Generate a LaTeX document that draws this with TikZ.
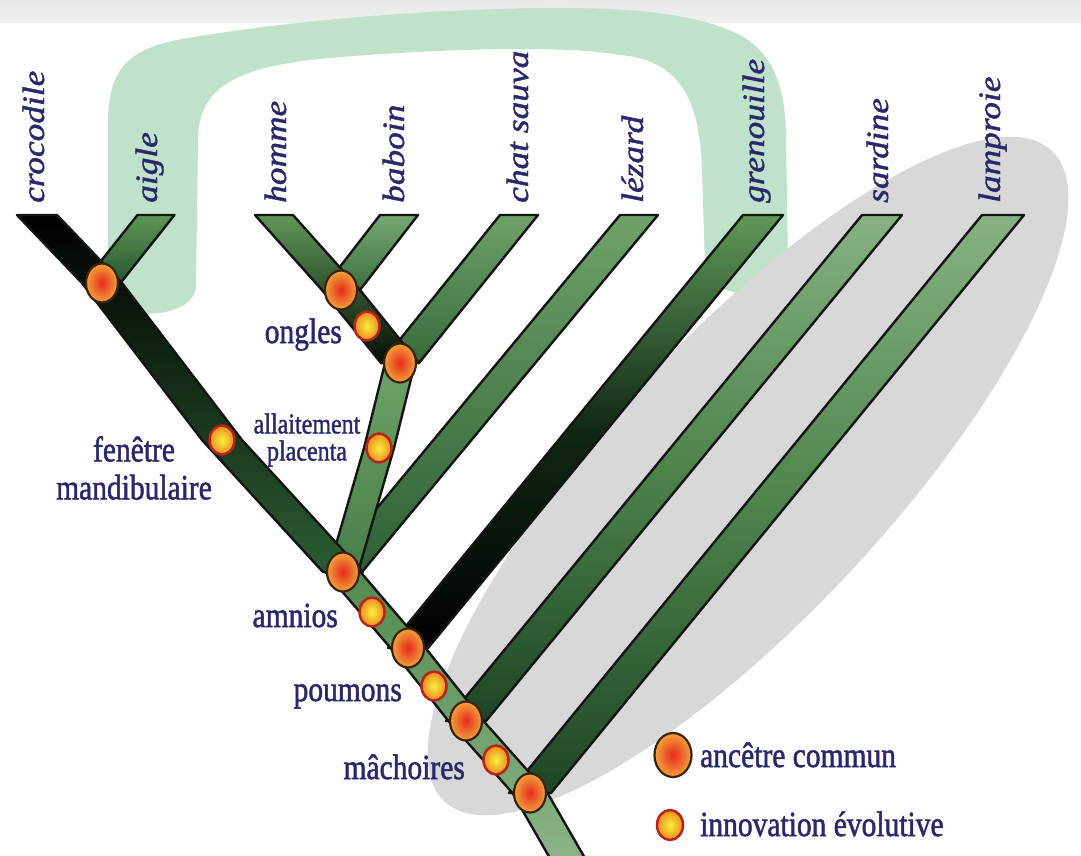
\documentclass[tikz,border=0pt]{standalone}
\usepackage{fontspec}
\setmainfont{Liberation Serif}
\newfontfamily\labfont{Liberation Serif}[FakeBold=1.6]
\newfontfamily\spfont{Liberation Serif}[FakeBold=1.3]
\usepackage{graphicx}
\usetikzlibrary{calc,shapes.geometric}
\pgfdeclarelayer{bg}
\pgfdeclarelayer{bars}
\pgfsetlayers{bg,bars,main}

\definecolor{navy}{HTML}{28286A}
\definecolor{mint}{HTML}{C0E1CA}
\definecolor{ellgray}{HTML}{D8D8D8}
\definecolor{ancin}{HTML}{E62A1C}
\definecolor{ancout}{HTML}{F3A23A}
\definecolor{ancring}{HTML}{3A230C}
\definecolor{innin}{HTML}{F7F23C}
\definecolor{innout}{HTML}{F08A22}
\definecolor{innring}{HTML}{B5231A}
\definecolor{HTMLa}{HTML}{5E9858}
\definecolor{HTMLb}{HTML}{25562E}

\newcommand\tallt[1]{\scalebox{1}[1.2]{#1}}
\newcommand\longt[1]{\scalebox{1.14}[1]{#1}}
% bar from tip #1 down to base node #2, horizontal half-width #3, style #4
\newcommand\branchbar[4]{%
  \draw[barline,#4] ($(#1)+(-#3,0)$) -- ($(#1)+(#3,0)$) -- ($(#2.center)+(#3,0)$) -- ($(#2.center)+(-#3,0)$) -- cycle;}

\begin{document}
\begin{tikzpicture}[x=1pt,y=-1pt,
  barline/.style={draw=black!92, line width=2.4pt, line join=round},
  upright/.style={shading angle=-39},
  upleft/.style={shading angle=40},
  anc/.style={ellipse, minimum width=32pt, minimum height=39pt, inner sep=0pt,
    draw=ancring, line width=2.2pt, inner color=ancin, outer color=ancout},
  innov/.style={ellipse, minimum width=25pt, minimum height=29pt, inner sep=0pt,
    draw=innring, line width=2.5pt, inner color=innin, outer color=innout},
  lab/.style={text=navy, font=\labfont\fontsize{29.5}{38}\selectfont, inner sep=0pt},
  smalllab/.style={text=navy, font=\labfont\fontsize{24}{27}\selectfont, inner sep=0pt, align=center},
  species/.style={text=navy, font=\spfont\itshape\fontsize{31}{31}\selectfont, rotate=90, inner sep=0pt, anchor=base west}
]
\useasboundingbox (0,0) rectangle (1081,855);

% ---- branch tips
\coordinate (tcroc) at (37,215);
\coordinate (taigle) at (156,215);
\coordinate (thomme) at (274,215);
\coordinate (tbab) at (399,215);
\coordinate (tchat) at (519,215);
\coordinate (tlez) at (639,215);
\coordinate (tgren) at (763,215);
\coordinate (tsard) at (882,215);
\coordinate (tlamp) at (1003,215);
\coordinate (tbot) at (580,880);

% ---- ancestors and innovations
\node[anc] (A1) at (102,283) {};
\node[anc] (A2) at (341,290) {};
\node[anc] (A3) at (400,363) {};
\node[anc] (A4) at (343,572) {};
\node[anc] (A5) at (408,648) {};
\node[anc] (A6) at (466,721) {};
\node[anc] (A7) at (530,793) {};
\node[innov] (I1) at (222,440) {};
\node[innov] (I5) at (367,326) {};
\node[innov] (I6) at (379,448) {};
\node[innov] (I2) at (372,612) {};
\node[innov] (I3) at (434,686) {};
\node[innov] (I4) at (496,760) {};

% ---- species labels
\node[species] (lcroc) at (44,203) {\longt{crocodile}};
\node[species] (laigle) at (157,203) {\longt{aigle}};
\node[species] (lhomme) at (286,203) {\longt{homme}};
\node[species] (lbab) at (404,203) {\longt{baboin}};
\node[species] (lchat) at (528,203) {\longt{chat sauva}};
\node[species] (llez) at (643,203) {\longt{lézard}};
\node[species] (lgren) at (764,203) {\longt{grenouille}};
\node[species] (lsard) at (888,203) {\longt{sardine}};
\node[species] (llamp) at (1000,203) {\longt{lamproie}};

% ---- trait labels
\node[lab, anchor=base east] (longles) at (342,343) {\tallt{ongles}};
\node[lab, align=center] (lfen) at (134,468) {\tallt{fenêtre}\\\tallt{mandibulaire}};
\node[smalllab] (lall) at (307,440) {\tallt{allaitement}\\\tallt{placenta}};
\node[lab, anchor=base east] (lamn) at (338,627) {\tallt{amnios}};
\node[lab, anchor=base east] (lpou) at (402,701) {\tallt{poumons}};
\node[lab, anchor=base east] (lmac) at (465,779) {\tallt{mâchoires}};

% ---- legend
\node[anc, minimum width=37pt, minimum height=44pt] (leganc) at (673,755) {};
\node[innov, minimum width=26pt, minimum height=30pt] (leginn) at (670,825) {};
\node[lab, anchor=base west] (lleganc) at (700,767) {\tallt{ancêtre commun}};
\node[lab, anchor=base west] (lleginn) at (700,836) {\tallt{innovation évolutive}};

% ---- backgrounds
\begin{pgfonlayer}{bg}
  \fill[white] (0,0) rectangle (1081,855);
  \shade[top color=black!9, bottom color=black!6] (0,0) rectangle (1081,22);
  \fill[mint] (108,292) -- (108,125) .. controls (108,62) and (132,46) .. (200,36)
    .. controls (300,20) and (420,10) .. (540,8)
    .. controls (640,7) and (700,15) .. (740,35)
    .. controls (776,55) and (786,92) .. (786,140)
    -- (788,265) .. controls (788,303) and (706,303) .. (705,265)
    -- (702,170) .. controls (700,100) and (680,60) .. (620,55)
    .. controls (560,44) and (420,50) .. (330,58)
    .. controls (240,66) and (198,85) .. (198,140)
    -- (196,285) .. controls (196,322) and (108,322) .. (108,292) -- cycle;
  \fill[ellgray, rotate around={47:(748,476)}] (748,476) ellipse [x radius=445pt, y radius=140pt];
\end{pgfonlayer}

% ---- branches
\begin{pgfonlayer}{bars}
  \branchbar{tlamp}{A7}{21}{upright, top color=HTMLa!75!white, bottom color=HTMLb!80!black, middle color=HTMLa!70!HTMLb}
  \branchbar{tsard}{A6}{20}{upright, top color=HTMLa!75!white, bottom color=HTMLb!80!black, middle color=HTMLa!70!HTMLb}
  \branchbar{tgren}{A5}{20}{upright, top color=HTMLa, bottom color=black, middle color=HTMLb!45!black}
  \branchbar{tlez}{A4}{19}{upright, top color=HTMLa!90!white, bottom color=HTMLb!85!HTMLa}
  \branchbar{tchat}{A3}{19}{upright, top color=HTMLa!90!white, bottom color=HTMLb!70!HTMLa}
  \branchbar{tbab}{A2}{19}{upright, top color=HTMLa!85!white, bottom color=HTMLb!60!HTMLa}
  \branchbar{taigle}{A1}{18.5}{upright, top color=HTMLa, bottom color=HTMLb}
  % primate chain homme - A2 - A3
  \draw[barline, upleft, top color=HTMLa, middle color=HTMLb!80!black, bottom color=black!85!HTMLb]
    ($(thomme)+(-19,0)$) -- ($(thomme)+(19,0)$) -- ($(A2.center)+(19,0)$) -- ($(A3.center)+(19,0)$)
    -- ($(A3.center)+(-19,0)$) -- ($(A2.center)+(-19,0)$) -- cycle;
  % mammal branch A3 - A4
  \draw[barline, shading angle=-15, top color=HTMLa!90!white, bottom color=HTMLa!60!HTMLb]
    ($(A3.center)+(-15,0)$) -- ($(A3.center)+(15,0)$) -- ($(I6.center)+(15,0)$) -- ($(A4.center)+(15,0)$)
    -- ($(A4.center)+(-15,0)$) -- ($(I6.center)+(-15,0)$) -- cycle;
  % upper trunk crocodile - A4
  \draw[barline, upleft, top color=black, middle color=black!75!HTMLb, bottom color=HTMLb!90!HTMLa]
    ($(tcroc)+(-20,0)$) -- ($(tcroc)+(20,0)$) -- ($(A1.center)+(20,0)$) -- ($(I1.center)+(20,0)$) -- ($(A4.center)+(20,0)$)
    -- ($(A4.center)+(-20,0)$) -- ($(I1.center)+(-20,0)$) -- ($(A1.center)+(-20,0)$) -- cycle;
  % lower trunk A4 - bottom
  \draw[barline, upleft, top color=HTMLa!80!HTMLb, bottom color=HTMLa!70!white]
    ($(A4.center)+(-17.5,0)$) -- ($(A4.center)+(17.5,0)$) -- ($(A5.center)+(17.5,0)$) -- ($(A6.center)+(17.5,0)$)
    -- ($(A7.center)+(17.5,0)$) -- ($(tbot)+(17.5,0)$) -- ($(tbot)+(-17.5,0)$) -- ($(A7.center)+(-17.5,0)$)
    -- ($(A6.center)+(-17.5,0)$) -- ($(A5.center)+(-17.5,0)$) -- cycle;
\end{pgfonlayer}
\end{tikzpicture}
\end{document}
